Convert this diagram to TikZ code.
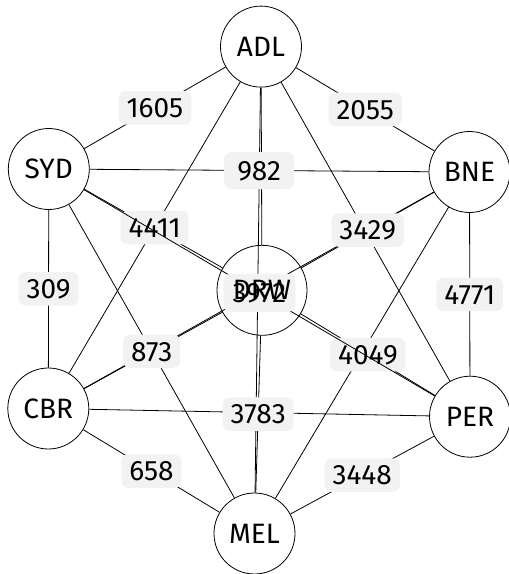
\documentclass[tikz,border=0pt]{standalone}
\usepackage{fontspec}
\setmainfont{Fira Sans}
\newcommand\dfont{\fontsize{28}{33}\selectfont}
\definecolor{labelgray}{RGB}{242,242,242}
\pgfdeclarelayer{edgelayer}
\pgfsetlayers{edgelayer,main}
\begin{document}
\begin{tikzpicture}[x=1pt,y=-1pt,
  city/.style={circle,draw,line width=0.8pt,minimum size=81pt,inner sep=0pt,font=\dfont},
  hub/.style={city,minimum size=90pt},
  edge/.style={line width=0.8pt},
  wlabel/.style={fill=labelgray,rounded corners=7pt,inner xsep=8pt,inner ysep=7pt,text height=19.5pt,text depth=0pt,font=\dfont}]
\useasboundingbox (0,0) rectangle (509,574);
\node[city,fill=white] (ADL) at (261,46.6) {ADL};
\node[city,fill=white] (SYD) at (48.8,169) {SYD};
\node[city,fill=white] (BNE) at (469.5,172) {BNE};
\node[city,fill=white] (CBR) at (48.3,408.5) {CBR};
\node[city,fill=white] (PER) at (470,416.7) {PER};
\node[city,fill=white] (MEL) at (254.5,533.5) {MEL};
\node[hub] (DRW) at (262,290.3) {DRW};
\begin{pgfonlayer}{edgelayer}
\draw[edge] (ADL) -- (DRW);
\draw[edge] (ADL) -- (PER);
\draw[edge] (ADL) -- (MEL);
\draw[edge] (SYD) -- (DRW);
\draw[edge] (BNE) -- (CBR);
\draw[edge] (BNE) -- (MEL);
\draw[edge] (DRW) -- (CBR);
\draw[edge] (CBR) -- (PER);
\draw[edge] (ADL) -- node[wlabel]{1605} (SYD);
\draw[edge] (ADL) -- node[wlabel]{2055} (BNE);
\draw[edge] (SYD) -- node[wlabel,minimum width=70pt,minimum height=37pt]{982} (BNE);
\draw[edge] (ADL) -- node[wlabel]{4411} (CBR);
\draw[edge] (BNE) -- node[wlabel]{3429} (DRW);
\draw[edge] (SYD) -- node[wlabel]{309} (CBR);
\draw[edge] (BNE) -- node[wlabel]{4771} (PER);
\draw[edge] (SYD) -- node[wlabel]{873} (MEL);
\draw[edge] (DRW) -- node[wlabel]{4049} (PER);
\draw[edge] (DRW) -- node[wlabel]{3783} (MEL);
\draw[edge] (CBR) -- node[wlabel]{658} (MEL);
\draw[edge] (PER) -- node[wlabel]{3448} (MEL);
\draw[edge] (SYD) -- node[wlabel,minimum width=72pt,minimum height=38pt]{3972} (PER);
\end{pgfonlayer}
\end{tikzpicture}
\end{document}
